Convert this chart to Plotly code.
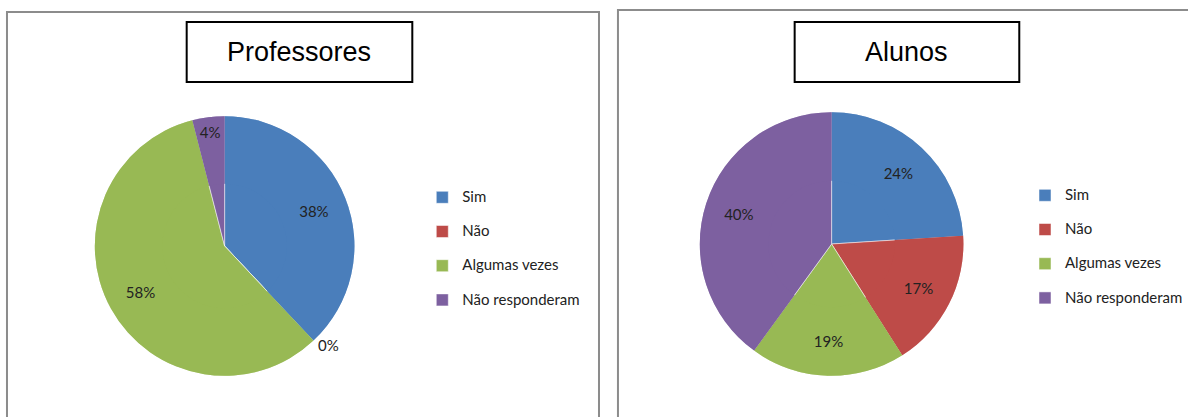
import plotly.graph_objects as go

categories = ["Sim", "Não", "Algumas vezes", "Não responderam"]
professores = [38, 0, 58, 4]
alunos = [24, 17, 19, 40]
titles = ["Professores", "Alunos"]
colors = ["#4A7EBB", "#BE4B48", "#98B954", "#7D60A0"]

W, H = 1188, 417
font_lbl = "Lato, 'Open Sans', sans-serif"
LEG_TXT = 15

legend_labels = ['<span style="font-size:%dpx">%s</span><br> ' % (LEG_TXT, c) for c in categories]


def dom(cx, cy, r):
    return dict(x=[(cx - r) / W, (cx + r) / W], y=[(H - cy - r) / H, (H - cy + r) / H])


fig = go.Figure()
panels = [
    (professores, dom(225, 246, 130), "legend", "prof", ["inside", "outside", "inside", "inside"]),
    (alunos, dom(833, 244, 132), "legend2", "alun", "inside"),
]
for vals, d, leg, grp, tpos in panels:
    # full pie underneath (fills the centre)
    fig.add_trace(go.Pie(
        labels=legend_labels, values=vals, sort=False, direction="clockwise", rotation=0,
        marker=dict(colors=colors, line=dict(color="white", width=0.5)),
        textinfo="none", domain=d, legend=leg, legendgroup=grp, hoverinfo="skip",
    ))
    # ring on top carrying the percentage labels at ~0.7 r
    fig.add_trace(go.Pie(
        labels=legend_labels, values=vals, sort=False, direction="clockwise", rotation=0, hole=0.48,
        marker=dict(colors=colors, line=dict(color="rgba(255,255,255,0)", width=0)),
        textinfo="percent", textposition=tpos, insidetextorientation="horizontal",
        textfont=dict(family=font_lbl, size=15, color="#222"),
        domain=d, legend=leg, legendgroup=grp, showlegend=False, hoverinfo="percent",
    ))

leg_common = dict(font=dict(family=font_lbl, size=12, color="#222"), valign="top",
                  bgcolor="rgba(0,0,0,0)", itemwidth=30, traceorder="normal")
shapes = [
    dict(type="rect", xref="paper", yref="paper", x0=7 / W, x1=600 / W, y0=-0.05, y1=(H - 12) / H,
         line=dict(color="#8c8c8c", width=2)),
    dict(type="rect", xref="paper", yref="paper", x0=619 / W, x1=1.05, y0=-0.05, y1=(H - 10) / H,
         line=dict(color="#8c8c8c", width=2)),
    dict(type="rect", xref="paper", yref="paper", x0=187 / W, x1=413 / W, y0=(H - 82) / H, y1=(H - 22) / H,
         line=dict(color="black", width=2)),
    dict(type="rect", xref="paper", yref="paper", x0=796 / W, x1=1021 / W, y0=(H - 82) / H, y1=(H - 22) / H,
         line=dict(color="black", width=2)),
]
title_font = dict(family="'Liberation Sans', Arial, sans-serif", size=27, color="black")
annotations = [
    dict(text=titles[0], x=300 / W, y=(H - 52) / H, xref="paper", yref="paper", showarrow=False,
         xanchor="center", yanchor="middle", font=title_font),
    dict(text=titles[1], x=908 / W, y=(H - 52) / H, xref="paper", yref="paper", showarrow=False,
         xanchor="center", yanchor="middle", font=title_font),
]

fig.update_layout(
    width=W, height=H, margin=dict(l=0, r=0, t=0, b=0),
    paper_bgcolor="white", plot_bgcolor="white",
    showlegend=True,
    legend=dict(x=423 / W, y=(H - 183) / H, xanchor="left", yanchor="top", **leg_common),
    legend2=dict(x=1027 / W, y=(H - 181) / H, xanchor="left", yanchor="top", **leg_common),
    shapes=shapes, annotations=annotations,
)

fig.write_html("out.html", config={"displayModeBar": False},
               post_script="document.body.style.margin='0';document.body.style.overflow='hidden';")
